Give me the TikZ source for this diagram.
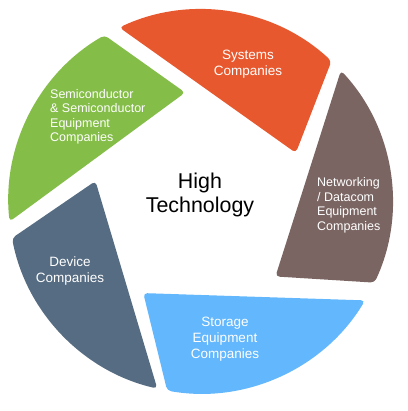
\documentclass[tikz,border=0pt]{standalone}
\usepackage{fontspec}
\setmainfont{Liberation Sans}
\definecolor{sysorange}{RGB}{232,88,46}
\definecolor{semigreen}{RGB}{133,189,73}
\definecolor{netbrown}{RGB}{122,101,98}
\definecolor{devblue}{RGB}{86,108,130}
\definecolor{storblue}{RGB}{99,183,252}
\usetikzlibrary{positioning}

\begin{document}
\begin{tikzpicture}[x=1pt,y=1pt,
  blade/.style={rounded corners=4pt},
  bladetext/.style={text=white,inner sep=0pt,font=\fontsize{13.5}{16}\selectfont},
  smalltext/.style={bladetext,align=left,anchor=west,font=\fontsize{12.5}{14.5}\selectfont}
]
  \useasboundingbox (-200.5,-209.5) rectangle (206.5,201.5);
  \fill[blade,fill=sysorange] (27:107) -- (47:192) arc[start angle=47,end angle=115,radius=192pt] -- cycle;
  \fill[blade,fill=semigreen] (98:110) -- (120:192) arc[start angle=120,end angle=186,radius=192pt] -- cycle;
  \fill[blade,fill=devblue] (169:107) -- (191:192) arc[start angle=191,end angle=257,radius=192pt] -- cycle;
  \fill[blade,fill=storblue] (238:108) -- (260:192) arc[start angle=260,end angle=329,radius=192pt] -- cycle;
  \fill[blade,fill=netbrown] (315:106) -- (335:192) arc[start angle=335,end angle=403,radius=192pt] -- cycle;
  \node[bladetext,align=center] (systems) at (47.5,137) {Systems\\Companies};
  \node[smalltext] (semi) at (-150.5,84.5) {Semiconductor\\\& Semiconductor\\Equipment\\Companies};
  \node[smalltext] (network) at (116.5,-4) {Networking\\/ Datacom\\Equipment\\Companies};
  \node[bladetext,align=center] (device) at (-130.5,-69.5) {Device\\Companies};
  \node[bladetext,align=center] (storage) at (24.5,-138) {Storage\\Equipment\\Companies};
  \node[inner sep=0pt,align=center,font=\fontsize{21.4}{24}\selectfont] (hightech) at (-0.5,6.5) {High\\Technology};
\end{tikzpicture}
\end{document}
